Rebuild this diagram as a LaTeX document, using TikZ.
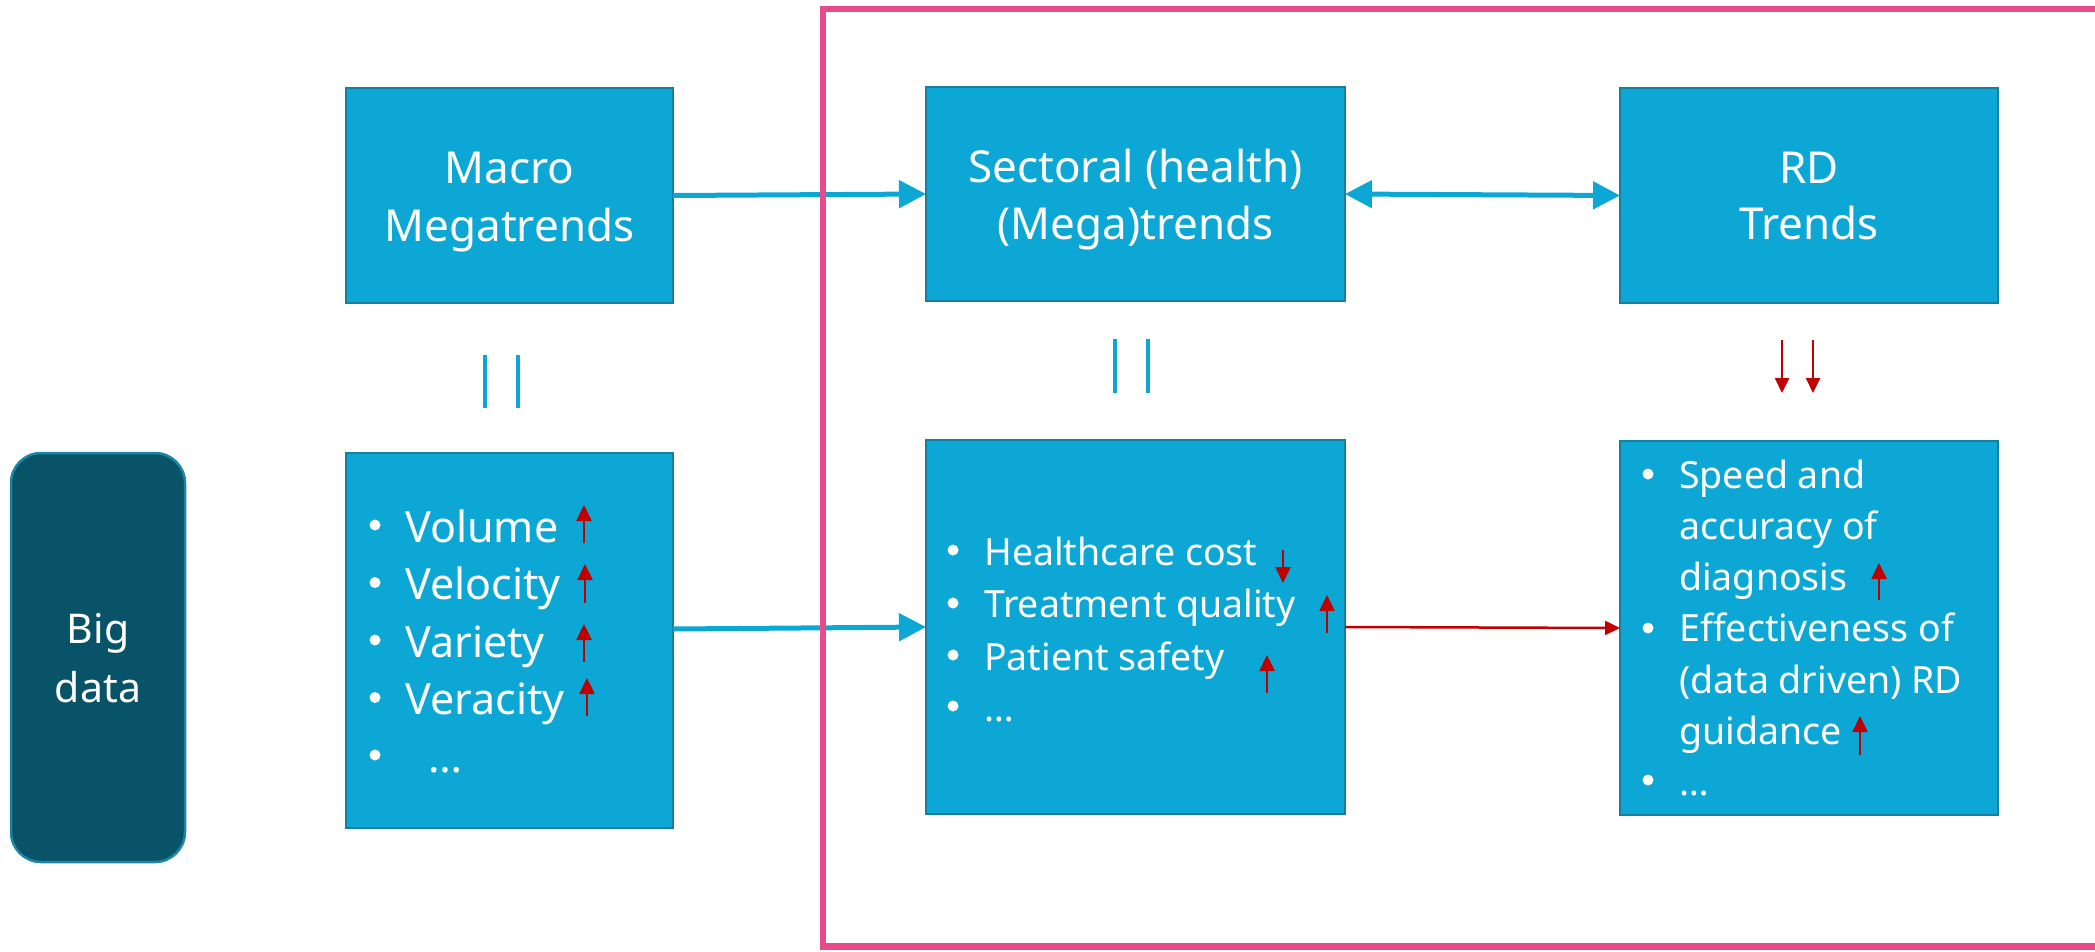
\documentclass[tikz,border=0pt]{standalone}
\usepackage{fontspec}
\setmainfont{Noto Sans}
\usetikzlibrary{arrows.meta,calc}
\definecolor{boxblue}{HTML}{0DA7D6}
\definecolor{boxedge}{HTML}{167E9E}
\definecolor{bigfill}{HTML}{095369}
\definecolor{bigedge}{HTML}{1C86A6}
\definecolor{pinkline}{HTML}{E84B8A}
\definecolor{arrred}{HTML}{C00000}
\definecolor{arrblue}{HTML}{0DA7D6}
\begin{document}
\begin{tikzpicture}[x=1pt,y=-1pt,
  box/.style={draw=boxedge, fill=boxblue, line width=2.5pt, inner sep=0pt, outer sep=0pt},
  bigbox/.style={draw=bigedge, fill=bigfill, line width=2.5pt, inner sep=0pt, outer sep=0pt, rounded corners=30pt},
  tt/.style={text=white, font=\fontsize{44}{58}\selectfont, anchor=base, inner sep=0pt},
  tb/.style={text=white, font=\fontsize{41}{58}\selectfont, anchor=base, inner sep=0pt},
  li/.style={text=white, font=\fontsize{43}{57}\selectfont, anchor=base west, inner sep=0pt},
  ls/.style={text=white, font=\fontsize{37.5}{52}\selectfont, anchor=base west, inner sep=0pt},
  bul/.style={fill=white},
  upa/.style={draw=arrred, line width=2.5pt, -{Triangle[length=16pt,width=15pt]}},
  reda/.style={draw=arrred, line width=2.5pt, -{Triangle[length=15pt,width=14pt]}},
  bluea/.style={draw=arrblue, line width=5pt, -{Triangle[length=27pt,width=27pt]}},
  blueaa/.style={draw=arrblue, line width=5pt, {Triangle[length=27pt,width=27pt]}-{Triangle[length=27pt,width=27pt]}},
  eqline/.style={draw=arrblue, line width=4.5pt}
]
\useasboundingbox (0,0) rectangle (2095,951);
\begin{scope}
\clip (0,0) rectangle (2095,951);

% boxes
\node[box, minimum width=327pt, minimum height=215pt] (macro) at (509.5,195.5) {};
\node[box, minimum width=327pt, minimum height=375pt] (mlist) at (509.5,640.5) {};
\node[box, minimum width=419pt, minimum height=214pt] (sect) at (1135.5,194) {};
\node[box, minimum width=419pt, minimum height=374pt] (slist) at (1135.5,627) {};
\node[box, minimum width=378pt, minimum height=215pt] (rd) at (1809,195.5) {};
\node[box, minimum width=378pt, minimum height=374pt] (rdlist) at (1809,628) {};
\node[bigbox, minimum width=174pt, minimum height=409pt] (big) at (98,657.5) {};

% titles
\node[tt] (t1) at (509.5,183) {Macro};
\node[tt] (t2) at (509.5,241) {Megatrends};
\node[tt] (t3) at (1135.5,182) {Sectoral (health)};
\node[tt] (t4) at (1135.5,239) {(Mega)trends};
\node[tt] (t5) at (1809,183) {RD};
\node[tt] (t6) at (1809,239) {Trends};
\node[tb] (b1) at (98,643) {Big};
\node[tb] (b2) at (98,702) {data};

% macro list
\foreach \yy in {525,582.5,640,697.5,755} {\fill[bul] (375,\yy) circle (5.5pt);}
\node[li] (m1) at (405,542) {Volume};
\node[li] (m2) at (405,599.5) {Velocity};
\node[li] (m3) at (405,657) {Variety};
\node[li] (m4) at (405,714.5) {Veracity};
\node[li] (m5) at (428,772) {…};
\draw[upa] (584,543) -- (584,505);
\draw[upa] (585,603) -- (585,564);
\draw[upa] (584,662) -- (584,624);
\draw[upa] (587,716) -- (587,678);

% sectoral list
\foreach \yy in {550,603,655,706} {\fill[bul] (953,\yy) circle (5.5pt);}
\node[ls] (s1) at (984,565) {Healthcare cost};
\node[ls] (s2) at (984,617.5) {Treatment quality};
\node[ls] (s3) at (984,670) {Patient safety};
\node[ls] (s4) at (984,721) {…};
\draw[upa] (1283,550) -- (1283,583);
\draw[upa] (1327,633) -- (1327,595);
\draw[upa] (1267,693) -- (1267,655);

% RD list
\foreach \yy in {474,628,780} {\fill[bul] (1648,\yy) circle (5.5pt);}
\node[ls] (r1) at (1679,488) {Speed and};
\node[ls] (r2) at (1679,539.3) {accuracy of};
\node[ls] (r3) at (1679,590.6) {diagnosis};
\node[ls] (r4) at (1679,641.9) {Effectiveness of};
\node[ls] (r5) at (1679,693.2) {(data driven) RD};
\node[ls] (r6) at (1679,744.5) {guidance};
\node[ls] (r7) at (1679,795.8) {…};
\draw[upa] (1879,600) -- (1879,563);
\draw[upa] (1860,755) -- (1860,716);

% equality / implication marks
\draw[eqline] (485,355) -- (485,408);
\draw[eqline] (518,355) -- (518,408);
\draw[eqline] (1115,339) -- (1115,393);
\draw[eqline] (1148,339) -- (1148,393);
\draw[reda] (1782,340) -- (1782,393);
\draw[reda] (1813,340) -- (1813,393);

% connectors
\draw[bluea] (macro.east) -- (sect.west);
\draw[bluea] ($(mlist.east)+(0,-11.5)$) -- (slist.west);
\draw[blueaa] (sect.east) -- (rd.west);
\draw[reda] (slist.east) -- (rdlist.west);

% pink frame
\draw[pinkline, line width=6.5pt] (2120,9) -- (823,9) -- (823,946.5) -- (2120,946.5);
\end{scope}
\end{tikzpicture}
\end{document}
